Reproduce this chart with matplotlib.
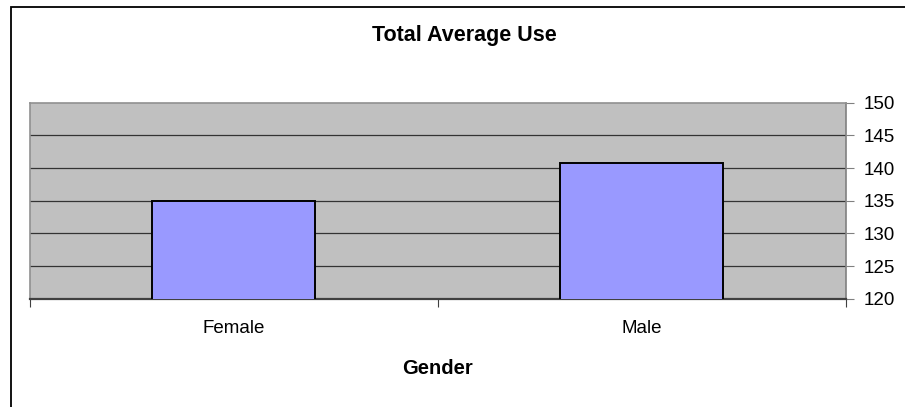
import matplotlib.pyplot as plt
from matplotlib.patches import Rectangle

plt.rcParams['font.family'] = ['Liberation Sans', 'DejaVu Sans']

genders = ['Female', 'Male']
avg_use = [135.0, 140.7]
y_ticks = [120, 125, 130, 135, 140, 145, 150]

fig = plt.figure(figsize=(9.05, 4.07), dpi=100)

# outer chart border (right/bottom edges fall outside the image)
fig.patches.append(Rectangle((11 / 905, -0.2), 1.2, 1 - 7 / 407 + 0.2,
                             transform=fig.transFigure, fill=False,
                             edgecolor='black', linewidth=1.3))

ax = fig.add_axes([30 / 905, 108.3 / 407, 815.7 / 905, 196 / 407])
ax.set_facecolor('#C0C0C0')

x = list(range(len(genders)))
ax.bar(x, avg_use, width=0.4, color='#9999FF', edgecolor='black',
       linewidth=1.4, zorder=3)

ax.set_xlim(-0.5, 1.5)
ax.set_ylim(120, 150)

# right side value axis
ax.yaxis.tick_right()
ax.set_yticks(y_ticks)
ax.tick_params(axis='y', direction='out', length=6, width=0.8, color='#808080',
               labelsize=13.5, pad=7)
for v in y_ticks[1:-1]:
    ax.axhline(v, color='#333333', linewidth=0.9, zorder=1)

# category axis: ticks at the category boundaries
ax.set_xticks(x)
ax.set_xticklabels(genders)
ax.set_xticks([-0.5, 0.5, 1.5], minor=True)
ax.tick_params(axis='x', which='major', length=0, labelsize=13.5, pad=15)
ax.tick_params(axis='x', which='minor', direction='out', length=6, width=0.8,
               color='#404040')

ax.spines['top'].set_color('#909090')
ax.spines['left'].set_color('#909090')
ax.spines['right'].set_color('#808080')
ax.spines['bottom'].set_color('#404040')
ax.spines['bottom'].set_linewidth(1.6)
for s in ['top', 'left', 'right']:
    ax.spines[s].set_linewidth(1.2)

fig.text(464.5 / 905, 1 - 35 / 407, 'Total Average Use', ha='center',
         va='center', fontsize=15.5, fontweight='bold')
fig.text(437.7 / 905, 1 - 368 / 407, 'Gender', ha='center', va='center',
         fontsize=14.5, fontweight='bold')

plt.savefig('out.png', dpi=100)
